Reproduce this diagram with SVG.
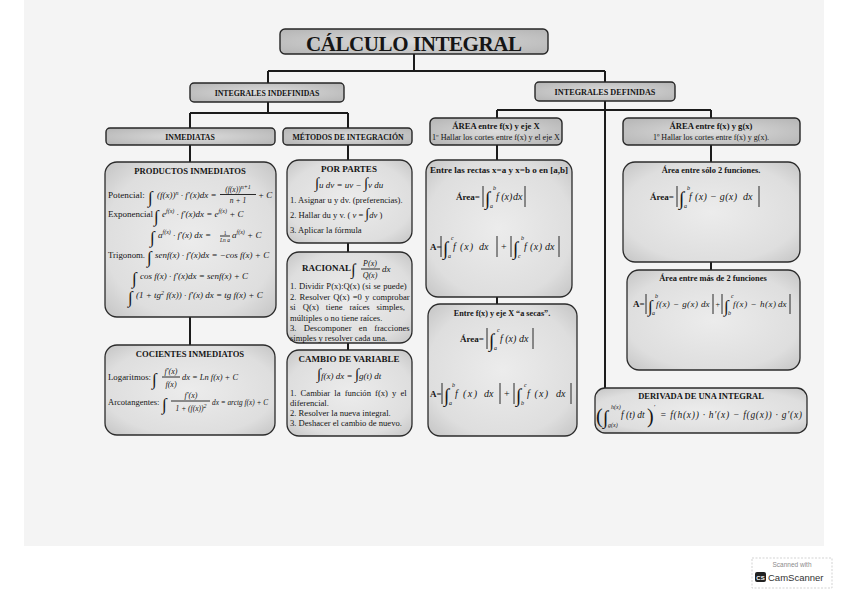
<svg xmlns="http://www.w3.org/2000/svg" width="848" height="599" viewBox="0 0 848 599">
<defs>
<radialGradient id="gh" cx="0.5" cy="0.5" r="0.7"><stop offset="0" stop-color="#dcdcdc"/><stop offset="1" stop-color="#b4b4b4"/></radialGradient>
<radialGradient id="gb" cx="0.5" cy="0.5" r="0.72"><stop offset="0" stop-color="#ececec"/><stop offset="0.7" stop-color="#dedede"/><stop offset="1" stop-color="#c2c2c2"/></radialGradient>
<style>
.hd{fill:url(#gh);stroke:#262626;stroke-width:1.4}
.bx{fill:url(#gb);stroke:#2b2b2b;stroke-width:1.3}
.c{fill:none;stroke:#1b1b1b;stroke-width:2}
.bar{stroke:#151515;stroke-width:0.9}
text{font-family:"Liberation Serif","Times New Roman",serif;fill:#151515;font-size:9px}
.b{font-weight:bold}
.i{font-style:italic}
.mid{text-anchor:middle}
.int{font-size:17px;font-style:normal}
.ir{font-size:19px;font-style:normal}
.lim{font-size:6px;font-style:italic}
.sup{font-size:6px}
.m{font-size:8.6px}
.fx{font-size:10px;font-style:italic}
</style>
</defs>
<rect x="0" y="0" width="848" height="599" fill="#ffffff"/>
<rect x="24" y="0" width="800" height="546" fill="#f4f4f4"/>

<g id="conectores">
<path class="c" d="M414,54V71M268,71H605M268,71V83M605,71V82M268,102V113M190,113H348M190,113V128M348,113V128M190,145V162M190,317V345M348,145V160M348,243V252M348,343V350M605,101V388M497,110H711M497,110V118M711,110V118M497,145V160M497,297V304M711,145V162M711,262V270"/>
</g>

<g id="titulo">
<rect x="280" y="29" width="268" height="25" rx="5" class="hd"/>
<text x="414" y="51" class="b mid" textLength="216" style="font-size:21px">CÁLCULO INTEGRAL</text>
</g>

<g id="indefinidas">
<rect x="190" y="83" width="154" height="19" rx="4" class="hd"/>
<text x="267" y="95.5" class="b mid" style="font-size:7.8px">INTEGRALES INDEFINIDAS</text>
</g>

<g id="definidas">
<rect x="535" y="82" width="140" height="19" rx="4" class="hd"/>
<text x="605" y="94.5" class="b mid" style="font-size:8.2px">INTEGRALES DEFINIDAS</text>
</g>

<g id="inmediatas">
<rect x="106" y="128" width="169" height="17" rx="4" class="hd"/>
<text x="190" y="139.5" class="b mid" style="font-size:7.8px">INMEDIATAS</text>
</g>

<g id="metodos">
<rect x="283" y="128" width="129" height="17" rx="4" class="hd"/>
<text x="348" y="139.5" class="b mid" style="font-size:7.8px">MÉTODOS DE INTEGRACIÓN</text>
</g>

<g id="productos">
<rect x="105" y="162" width="171" height="155" rx="12" class="bx"/>
<text x="190" y="174" class="b mid" style="font-size:8.6px">PRODUCTOS INMEDIATOS</text>
<text x="108" y="198" style="font-size:9.2px">Potencial:</text>
<text x="148" y="203" class="int">∫</text>
<text x="157" y="198" class="i">(f(x))<tspan dy="-3.5" class="sup">n</tspan><tspan dy="3.5"> · f′(x)dx =</tspan></text>
<text x="238" y="192" class="i mid" style="font-size:7.5px">(f(x))<tspan dy="-3" class="sup">n+1</tspan></text>
<line x1="220" y1="194.5" x2="256" y2="194.5" class="bar"/>
<text x="238" y="202.5" class="i mid" style="font-size:7.5px">n + 1</text>
<text x="258" y="198" class="i">+ C</text>

<text x="108" y="217" style="font-size:9px">Exponencial</text>
<text x="154" y="222" class="int">∫</text>
<text x="162" y="217" class="i">e<tspan dy="-4" class="sup">f(x)</tspan><tspan dy="4"> · f′(x)dx = e</tspan><tspan dy="-4" class="sup">f(x)</tspan><tspan dy="4"> + C</tspan></text>

<text x="150" y="243" class="int">∫</text>
<text x="158" y="238" class="i">a<tspan dy="-4" class="sup">f(x)</tspan><tspan dy="4"> · f′(x) dx =</tspan></text>
<text x="225" y="234.5" class="mid" style="font-size:5.5px">1</text>
<line x1="220" y1="236" x2="230" y2="236" class="bar"/>
<text x="225" y="242" class="i mid" style="font-size:5.5px">Ln a</text>
<text x="232" y="238" class="i">a<tspan dy="-4" class="sup">f(x)</tspan><tspan dy="4"> + C</tspan></text>

<text x="108" y="258" style="font-size:8.8px">Trigonom.</text>
<text x="147" y="263" class="int">∫</text>
<text x="155" y="258" class="i">senf(x) · f′(x)dx = −cos f(x) + C</text>

<text x="132" y="284" class="int">∫</text>
<text x="140" y="279" class="i">cos f(x) · f′(x)dx = senf(x) + C</text>

<text x="128" y="303" class="int">∫</text>
<text x="136" y="298" class="i">(1 + tg<tspan dy="-3.5" class="sup">2</tspan><tspan dy="3.5"> f(x)) · f′(x) dx = tg f(x) + C</tspan></text>
</g>

<g id="cocientes">
<rect x="105" y="345" width="170" height="90" rx="12" class="bx"/>
<text x="190" y="357" class="b mid" style="font-size:8.6px">COCIENTES INMEDIATOS</text>
<text x="108" y="380" style="font-size:8.8px">Logaritmos:</text>
<text x="152" y="385" class="int">∫</text>
<text x="171" y="374" class="i mid" style="font-size:8px">f′(x)</text>
<line x1="162" y1="377" x2="180" y2="377" class="bar"/>
<text x="171" y="386.5" class="i mid" style="font-size:8px">f(x)</text>
<text x="182" y="380" class="i" textLength="56" lengthAdjust="spacingAndGlyphs">dx = Ln f(x) + C</text>

<text x="108" y="405" style="font-size:8.5px">Arcotangentes:</text>
<text x="162" y="410" class="int">∫</text>
<text x="191" y="398" class="i mid" style="font-size:8px">f′(x)</text>
<line x1="171" y1="401" x2="210" y2="401" class="bar"/>
<text x="191" y="411" class="i mid" style="font-size:7.5px">1 + (f(x))<tspan dy="-3" class="sup">2</tspan></text>
<text x="212" y="405" class="i" textLength="56" lengthAdjust="spacingAndGlyphs">dx = arctg f(x) + C</text>
</g>

<g id="por-partes">
<rect x="287" y="160" width="125" height="83" rx="12" class="bx"/>
<text x="349" y="172" class="b mid" style="font-size:9px">POR PARTES</text>
<text x="349" y="188" class="i mid"><tspan class="int" style="font-size:15px">∫</tspan>u dv = uv − <tspan class="int" style="font-size:15px">∫</tspan>v du</text>
<text x="290" y="203" class="m">1. Asignar u y dv. (preferencias).</text>
<text x="290" y="218" class="m">2. Hallar du y v. ( <tspan class="i">v</tspan> = <tspan style="font-size:14px">∫</tspan><tspan class="i">dv</tspan> )</text>
<text x="290" y="233" class="m">3. Aplicar la fórmula</text>
</g>

<g id="racional">
<rect x="287" y="252" width="125" height="91" rx="12" class="bx"/>
<text x="302" y="271" class="b">RACIONAL</text>
<text x="351" y="275" class="int" style="font-size:16px">∫</text>
<text x="370" y="266" class="i mid" style="font-size:8px">P(x)</text>
<line x1="361" y1="269" x2="380" y2="269" class="bar"/>
<text x="370" y="278" class="i mid" style="font-size:8px">Q(x)</text>
<text x="382" y="272" class="i">dx</text>
<text x="290" y="289" class="m" word-spacing="0.4">1. Dividir P(x):Q(x) (si se puede)</text>
<text x="290" y="299.5" class="m" word-spacing="1">2. Resolver Q(x) =0 y comprobar</text>
<text x="290" y="310" class="m" word-spacing="4.8">si Q(x) tiene raíces simples,</text>
<text x="290" y="320.5" class="m">múltiples o no tiene raíces.</text>
<text x="290" y="331" class="m" word-spacing="5.2">3. Descomponer en fracciones</text>
<text x="290" y="341" class="m">simples y resolver cada una.</text>
</g>

<g id="cambio-variable">
<rect x="287" y="350" width="125" height="86" rx="12" class="bx"/>
<text x="349" y="362" class="b mid">CAMBIO DE VARIABLE</text>
<text x="349" y="379" class="i mid"><tspan class="int" style="font-size:15px">∫</tspan>f(x) dx = <tspan class="int" style="font-size:15px">∫</tspan>g(t) dt</text>
<text x="290" y="396" class="m" word-spacing="2">1. Cambiar la función f(x) y el</text>
<text x="290" y="406" class="m">diferencial.</text>
<text x="290" y="416" class="m">2. Resolver la nueva integral.</text>
<text x="290" y="426" class="m">3. Deshacer el cambio de nuevo.</text>
</g>

<g id="area-eje-x">
<rect x="430" y="118" width="132" height="27" rx="5" class="hd"/>
<text x="496" y="129" class="b mid" style="font-size:8.6px">ÁREA entre f(x) y eje X</text>
<text x="496" y="140" class="mid" style="font-size:7.6px" textLength="128" lengthAdjust="spacingAndGlyphs">1º Hallar los cortes entre f(x) y el eje X</text>
</g>

<g id="entre-rectas">
<rect x="426" y="160" width="146" height="137" rx="12" class="bx"/>
<text x="430" y="173" class="b" style="font-size:8px" textLength="138" lengthAdjust="spacingAndGlyphs">Entre las rectas x=a  y x=b o en [a,b]</text>
<text x="456" y="200" class="b">Área=</text>
<line x1="483" y1="186" x2="483" y2="207" class="bar"/>
<text x="485" y="205" class="ir">∫</text>
<text x="493" y="190" class="lim">b</text><text x="490" y="208" class="lim">a</text>
<text x="496" y="200" class="fx">f (x)</text><text x="513" y="200" class="fx">dx</text>
<line x1="525" y1="186" x2="525" y2="207" class="bar"/>

<text x="430" y="250" class="b">A=</text>
<line x1="441" y1="236" x2="441" y2="257" class="bar"/>
<text x="443" y="255" class="ir">∫</text>
<text x="451" y="240" class="lim">c</text><text x="448" y="258" class="lim">a</text>
<text x="453" y="250" class="fx" textLength="20">f (x)</text><text x="479" y="250" class="fx">dx</text>
<line x1="497" y1="236" x2="497" y2="257" class="bar"/>
<text x="501" y="250" style="font-size:10px">+</text>
<line x1="511" y1="236" x2="511" y2="257" class="bar"/>
<text x="513" y="255" class="ir">∫</text>
<text x="521" y="240" class="lim">b</text><text x="518" y="258" class="lim">c</text>
<text x="524" y="250" class="fx" textLength="18">f (x)</text><text x="545" y="250" class="fx">dx</text>
<line x1="559" y1="236" x2="559" y2="257" class="bar"/>
</g>

<g id="a-secas">
<rect x="428" y="304" width="149" height="132" rx="12" class="bx"/>
<text x="502" y="316" class="b mid" style="font-size:8.2px">Entre f(x) y eje X “a secas”.</text>
<text x="460" y="342" class="b">Área=</text>
<line x1="487" y1="328" x2="487" y2="349" class="bar"/>
<text x="489" y="347" class="ir">∫</text>
<text x="497" y="332" class="lim">c</text><text x="494" y="350" class="lim">a</text>
<text x="500" y="342" class="fx">f (x)</text><text x="519" y="342" class="fx">dx</text>
<line x1="533" y1="328" x2="533" y2="349" class="bar"/>

<text x="430" y="397" class="b">A=</text>
<line x1="442" y1="383" x2="442" y2="404" class="bar"/>
<text x="444" y="402" class="ir">∫</text>
<text x="452" y="387" class="lim">b</text><text x="449" y="405" class="lim">a</text>
<text x="455" y="397" class="fx" textLength="22">f (x)</text><text x="484" y="397" class="fx">dx</text>
<line x1="500" y1="383" x2="500" y2="404" class="bar"/>
<text x="504" y="397" style="font-size:10px">+</text>
<line x1="514" y1="383" x2="514" y2="404" class="bar"/>
<text x="516" y="402" class="ir">∫</text>
<text x="524" y="387" class="lim">c</text><text x="521" y="405" class="lim">b</text>
<text x="527" y="397" class="fx" textLength="21">f (x)</text><text x="556" y="397" class="fx">dx</text>
<line x1="571" y1="383" x2="571" y2="404" class="bar"/>
</g>

<g id="area-fg">
<rect x="623" y="118" width="177" height="27" rx="5" class="hd"/>
<text x="711" y="129" class="b mid" style="font-size:8.6px">ÁREA entre f(x) y g(x)</text>
<text x="711" y="140" class="mid" style="font-size:8px">1º Hallar los cortes entre f(x) y g(x).</text>
</g>

<g id="solo-2">
<rect x="623" y="162" width="177" height="100" rx="12" class="bx"/>
<text x="711" y="173" class="b mid" style="font-size:8.4px">Área entre sólo 2 funciones.</text>
<text x="650" y="200" class="b">Área=</text>
<line x1="677" y1="186" x2="677" y2="207" class="bar"/>
<text x="679" y="205" class="ir">∫</text>
<text x="687" y="190" class="lim">b</text><text x="684" y="208" class="lim">a</text>
<text x="689" y="200" class="fx" textLength="48">f (x) − g(x)</text><text x="743" y="200" class="fx">dx</text>
<line x1="759" y1="186" x2="759" y2="207" class="bar"/>
</g>

<g id="mas-de-2">
<rect x="627" y="270" width="173" height="100" rx="12" class="bx"/>
<text x="713" y="281" class="b mid" style="font-size:8.4px">Área entre más de 2 funciones</text>
<text x="633" y="307" class="b">A=</text>
<line x1="646" y1="294" x2="646" y2="314" class="bar"/>
<text x="648" y="312" class="int">∫</text>
<text x="655" y="298" class="lim">b</text><text x="652" y="315" class="lim">a</text>
<text x="656" y="307" class="i" style="font-size:9px" textLength="42">f(x) − g(x)</text><text x="701" y="307" class="i" style="font-size:9px">dx</text>
<line x1="713" y1="294" x2="713" y2="314" class="bar"/>
<text x="715.5" y="307" style="font-size:8px">+</text>
<line x1="722" y1="294" x2="722" y2="314" class="bar"/>
<text x="724" y="312" class="int">∫</text>
<text x="731" y="298" class="lim">c</text><text x="728" y="315" class="lim">b</text>
<text x="733" y="307" class="i" style="font-size:9px" textLength="43">f(x) − h(x)</text><text x="778" y="307" class="i" style="font-size:9px">dx</text>
<line x1="790" y1="294" x2="790" y2="314" class="bar"/>
</g>

<g id="derivada">
<rect x="595" y="388" width="212" height="45" rx="10" class="bx"/>
<text x="701" y="399" class="b mid" style="font-size:8.5px">DERIVADA DE UNA INTEGRAL</text>
<text x="596" y="423" style="font-size:20px">(</text>
<text x="603" y="424" class="ir">∫</text>
<text x="611" y="409" class="lim">h(x)</text><text x="608" y="427" class="lim">g(x)</text>
<text x="621" y="418" class="i" style="font-size:9.5px">f (t) dt</text>
<text x="647" y="423" style="font-size:20px">)</text>
<text x="654" y="409" style="font-size:7px">′</text>
<text x="660" y="418" class="i" style="font-size:9.5px" textLength="142">= f(h(x)) · h′(x) − f(g(x)) · g′(x)</text>
</g>

<g id="camscanner">
<rect x="752" y="558" width="80" height="30" fill="#ffffff" stroke="#c8c8c8" stroke-width="0.8" stroke-dasharray="2,1.5"/>
<text x="792" y="567" class="mid" style="font-family:'Liberation Sans',Arial,sans-serif;font-size:6.5px;fill:#8a8a8a">Scanned with</text>
<rect x="755" y="572" width="11" height="10" rx="2" fill="#222222"/>
<text x="760.5" y="579.5" class="mid b" style="font-family:'Liberation Sans',Arial,sans-serif;font-size:6px;fill:#ffffff">CS</text>
<text x="768" y="581" style="font-family:'Liberation Sans',Arial,sans-serif;font-size:9.5px;fill:#333333">CamScanner</text>
</g>
</svg>
